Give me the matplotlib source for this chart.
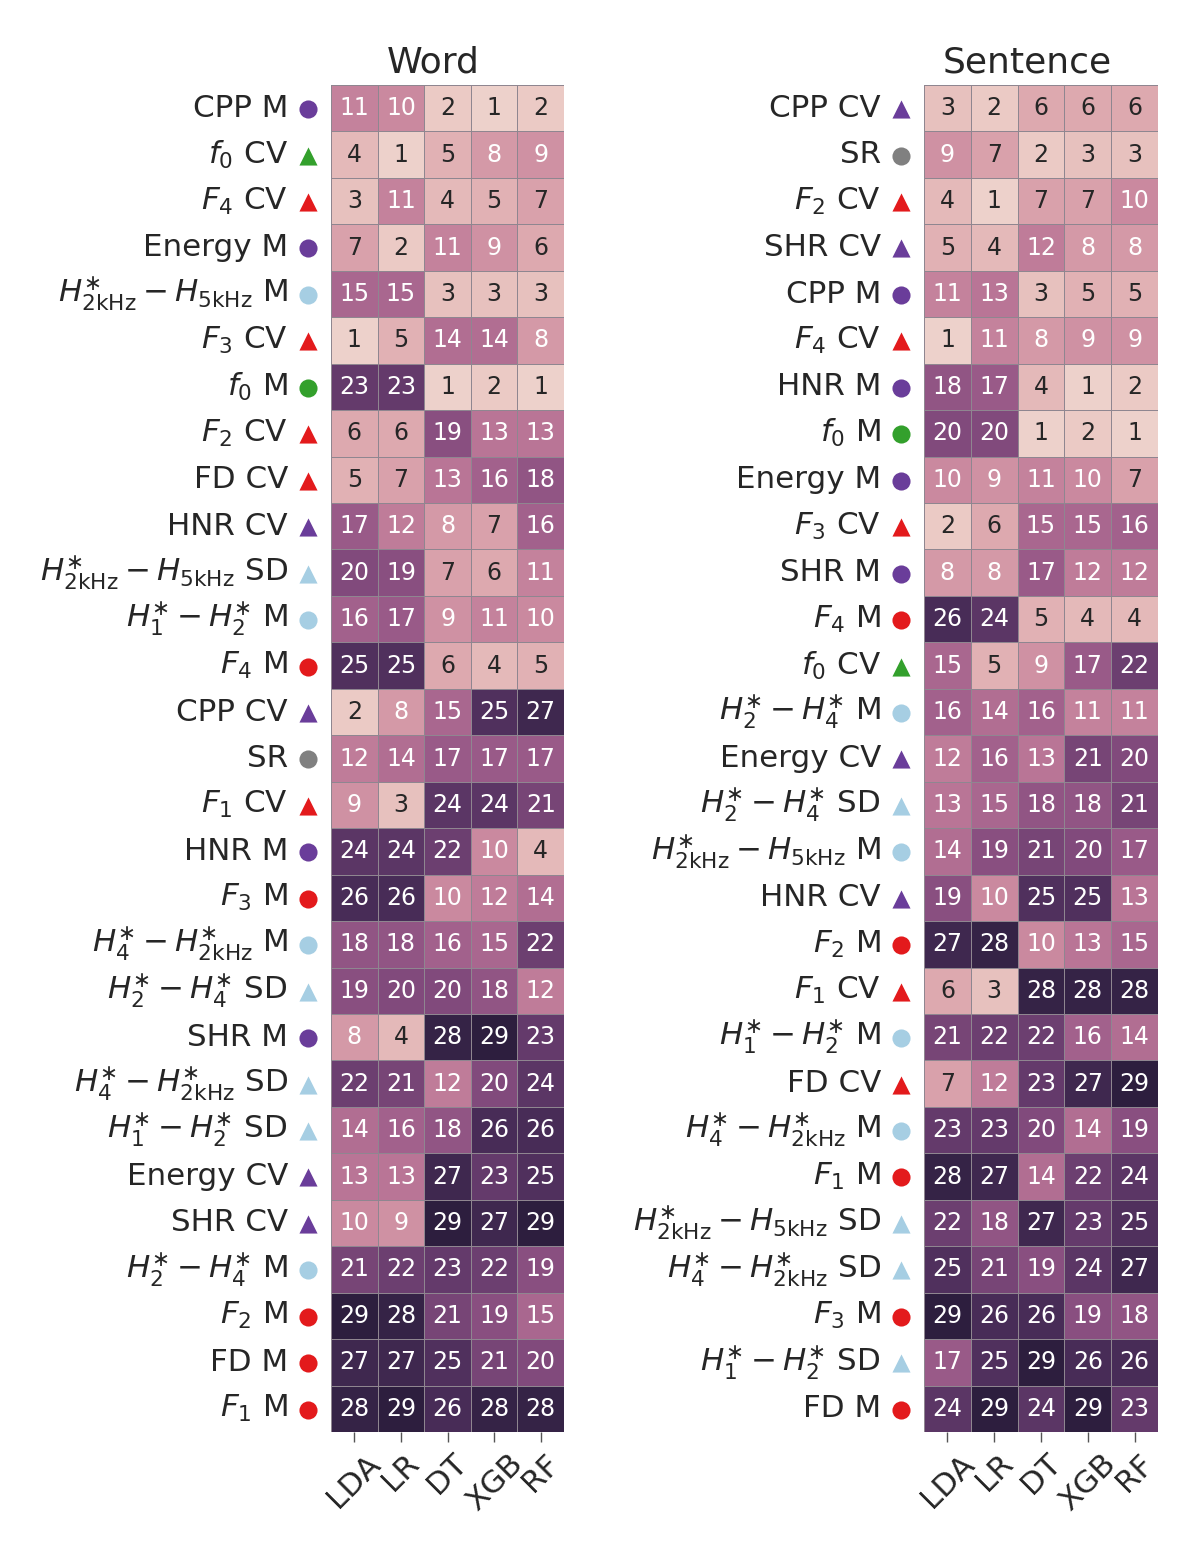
import matplotlib
matplotlib.use('Agg')
import matplotlib.pyplot as plt
import numpy as np
import seaborn as sns

classifiers = ['LDA', 'LR', 'DT', 'XGB', 'RF']

# shorthands for the long feature names
H2k_H5k = r'$H^{\ast}_{\mathrm{2kHz}} - H_{\mathrm{5kHz}}$'
H1_H2 = r'$H^{\ast}_{1} - H^{\ast}_{2}$'
H2_H4 = r'$H^{\ast}_{2} - H^{\ast}_{4}$'
H4_H2k = r'$H^{\ast}_{4} - H^{\ast}_{\mathrm{2kHz}}$'

word_labels = [
    'CPP M', '$f_0$ CV', '$F_4$ CV', 'Energy M', H2k_H5k + ' M', '$F_3$ CV', '$f_0$ M', '$F_2$ CV',
    'FD CV', 'HNR CV', H2k_H5k + ' SD', H1_H2 + ' M', '$F_4$ M', 'CPP CV', 'SR', '$F_1$ CV',
    'HNR M', '$F_3$ M', H4_H2k + ' M', H2_H4 + ' SD', 'SHR M', H4_H2k + ' SD', H1_H2 + ' SD',
    'Energy CV', 'SHR CV', H2_H4 + ' M', '$F_2$ M', 'FD M', '$F_1$ M',
]
word_ranks = [
    [11, 10, 2, 1, 2], [4, 1, 5, 8, 9], [3, 11, 4, 5, 7], [7, 2, 11, 9, 6], [15, 15, 3, 3, 3],
    [1, 5, 14, 14, 8], [23, 23, 1, 2, 1], [6, 6, 19, 13, 13], [5, 7, 13, 16, 18], [17, 12, 8, 7, 16],
    [20, 19, 7, 6, 11], [16, 17, 9, 11, 10], [25, 25, 6, 4, 5], [2, 8, 15, 25, 27], [12, 14, 17, 17, 17],
    [9, 3, 24, 24, 21], [24, 24, 22, 10, 4], [26, 26, 10, 12, 14], [18, 18, 16, 15, 22], [19, 20, 20, 18, 12],
    [8, 4, 28, 29, 23], [22, 21, 12, 20, 24], [14, 16, 18, 26, 26], [13, 13, 27, 23, 25], [10, 9, 29, 27, 29],
    [21, 22, 23, 22, 19], [29, 28, 21, 19, 15], [27, 27, 25, 21, 20], [28, 29, 26, 28, 28],
]

sentence_labels = [
    'CPP CV', 'SR', '$F_2$ CV', 'SHR CV', 'CPP M', '$F_4$ CV', 'HNR M', '$f_0$ M', 'Energy M',
    '$F_3$ CV', 'SHR M', '$F_4$ M', '$f_0$ CV', H2_H4 + ' M', 'Energy CV', H2_H4 + ' SD', H2k_H5k + ' M',
    'HNR CV', '$F_2$ M', '$F_1$ CV', H1_H2 + ' M', 'FD CV', H4_H2k + ' M', '$F_1$ M', H2k_H5k + ' SD',
    H4_H2k + ' SD', '$F_3$ M', H1_H2 + ' SD', 'FD M',
]
sentence_ranks = [
    [3, 2, 6, 6, 6], [9, 7, 2, 3, 3], [4, 1, 7, 7, 10], [5, 4, 12, 8, 8], [11, 13, 3, 5, 5],
    [1, 11, 8, 9, 9], [18, 17, 4, 1, 2], [20, 20, 1, 2, 1], [10, 9, 11, 10, 7], [2, 6, 15, 15, 16],
    [8, 8, 17, 12, 12], [26, 24, 5, 4, 4], [15, 5, 9, 17, 22], [16, 14, 16, 11, 11], [12, 16, 13, 21, 20],
    [13, 15, 18, 18, 21], [14, 19, 21, 20, 17], [19, 10, 25, 25, 13], [27, 28, 10, 13, 15], [6, 3, 28, 28, 28],
    [21, 22, 22, 16, 14], [7, 12, 23, 27, 29], [23, 23, 20, 14, 19], [28, 27, 14, 22, 24], [22, 18, 27, 23, 25],
    [25, 21, 19, 24, 27], [29, 26, 26, 19, 18], [17, 25, 29, 26, 26], [24, 29, 24, 29, 23],
]


def feature_color(label):
    if label.startswith('$H'):
        return '#a6cee3'
    if label.startswith('$F') or label.startswith('FD'):
        return '#e31a1c'
    if label.startswith('$f'):
        return '#33a02c'
    if label == 'SR':
        return '#808080'
    return '#6a3d9a'


def feature_marker(label):
    return '^' if label.endswith('CV') or label.endswith('SD') else 'o'


def draw_panel(fig, rect, title, labels, ranks):
    ax = fig.add_axes(rect)
    sns.heatmap(np.array(ranks), ax=ax, cmap=sns.cubehelix_palette(as_cmap=True), vmin=1, vmax=29,
                annot=True, fmt='d', annot_kws={'size': 17}, cbar=False,
                linewidths=0.7, linecolor='#8f8690',
                xticklabels=classifiers, yticklabels=labels)
    ax.set_title(title, fontsize=26, pad=9, x=0.44, color='#262626')
    ax.tick_params(axis='y', length=0, pad=31, labelsize=22.3, labelrotation=0, labelcolor='#262626')
    ax.tick_params(axis='x', length=7, width=1, color='#555555', labelsize=22.3, labelrotation=45,
                   labelcolor='#262626', pad=5)
    # feature type markers sit between the labels and the cells
    trans = ax.get_yaxis_transform()
    for i, label in enumerate(labels):
        ax.scatter(-0.099, i + 0.52, transform=trans, clip_on=False, s=170, linewidths=0,
                   c=feature_color(label), marker=feature_marker(label))
    return ax


fig = plt.figure(figsize=(12, 15.64), dpi=100)
draw_panel(fig, [331 / 1200, 1 - 1432 / 1564, 233 / 1200, 1347 / 1564], 'Word', word_labels, word_ranks)
draw_panel(fig, [924 / 1200, 1 - 1432 / 1564, 234 / 1200, 1347 / 1564], 'Sentence', sentence_labels, sentence_ranks)
fig.savefig('out.png', dpi=100)
